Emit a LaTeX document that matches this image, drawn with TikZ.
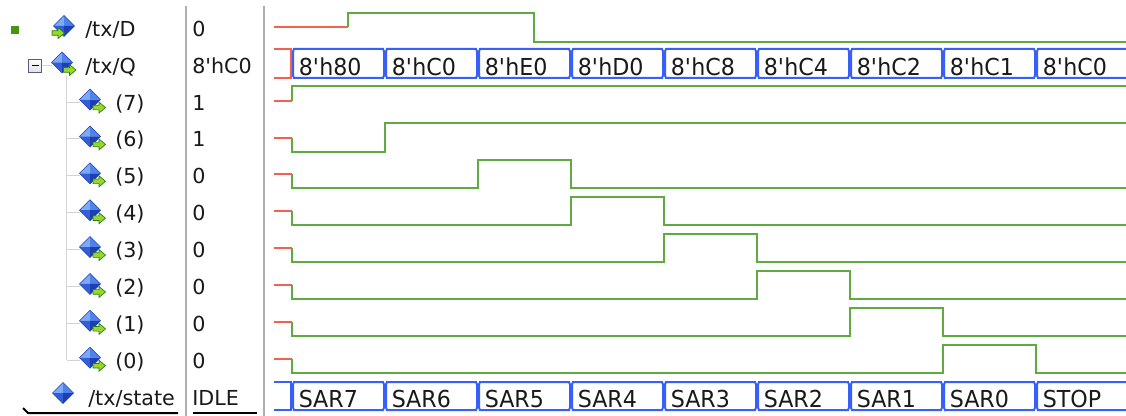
\documentclass[tikz,border=0pt]{standalone}
\usepackage{fontspec}
\setmainfont{DejaVu Sans}
\newfontfamily\busfont[FakeStretch=0.95]{DejaVu Sans}
\definecolor{wred}{RGB}{245,95,80}
\definecolor{wgreen}{RGB}{95,170,65}
\definecolor{wblue}{RGB}{55,95,250}
\definecolor{sepgray}{RGB}{175,175,175}
\definecolor{treegray}{RGB}{212,212,212}
\definecolor{txt}{RGB}{25,25,25}
\definecolor{sqgreen}{RGB}{70,150,20}
\definecolor{dA}{RGB}{125,170,245}
\definecolor{dB}{RGB}{80,130,235}
\definecolor{dC}{RGB}{50,95,215}
\definecolor{dD}{RGB}{30,62,180}
\definecolor{agreen}{RGB}{150,215,40}
\definecolor{adark}{RGB}{40,125,20}
\newcommand\apos{\textquotesingle}
\tikzset{
  pics/dia/.style={code={
    \fill[dA] (0,-10.5) -- (-10.5,0) -- (0,0) -- cycle;
    \fill[dB] (0,-10.5) -- (10.5,0) -- (0,0) -- cycle;
    \fill[dC] (-10.5,0) -- (0,10.5) -- (0,0) -- cycle;
    \fill[dD] (10.5,0) -- (0,10.5) -- (0,0) -- cycle;
    \draw[dD, line width=0.4pt] (0,-10.5) -- (10.5,0) -- (0,10.5) -- (-10.5,0) -- cycle;
  }},
  pics/sarrow/.style={code={
    \filldraw[fill=agreen, draw=adark, line width=0.5pt]
      (-6,-2.3) -- (0,-2.3) -- (0,-5.5) -- (6.5,0) -- (0,5.5) -- (0,2.3) -- (-6,2.3) -- cycle;
  }}
}
\begin{document}
\begin{tikzpicture}[x=0.75pt,y=-0.75pt,
  wave/.style={line width=1.5pt, line join=miter},
  xsig/.style={wave, draw=wred},
  lsig/.style={wave, draw=wgreen},
  bussig/.style={wave, draw=wblue, line width=1.5pt},
  lbl/.style={font=\fontsize{15.5}{18}\selectfont, text=txt, inner sep=0pt, anchor=base west},
  bustxt/.style={font=\busfont\fontsize{17.5}{21}\selectfont, text=txt, inner sep=0pt, anchor=base west},
  sep/.style={draw=sepgray, line width=1.5pt},
  tree/.style={draw=treegray, line width=0.75pt}
]
\clip (0,0) rectangle (1126,416);
\fill[white] (0,0) rectangle (1126,416);

% separators
\draw[sep] (186,6) -- (186,416);
\draw[sep] (264,6) -- (264,416);
% bottom edges
\draw[black, line width=1.5pt] (23,408) -- (28,413) -- (178,413);
\draw[black, line width=1.5pt] (193,413) -- (257,413);

% tree
\draw[tree] (66.5,76) -- (66.5,360);
\foreach \r in {2,...,9}{
  \pgfmathsetmacro\yc{round(26.8+36.88*\r)+0.5}
  \draw[tree] (66.5,\yc+1) -- (80,\yc+1);
}
\draw[tree] (41,65.5) -- (52,65.5);
% minus box
\shade[top color=white, bottom color=black!12, draw=black!40!blue!30!gray] (28.5,59.5) rectangle (41.5,72.5);
\draw[black, line width=0.75pt] (31.5,66) -- (38.5,66);
% green square
\fill[sqgreen] (11,26) rectangle (19,34);

% icons
\pic at (64,26) {dia};
\pic at (58,33) {sarrow};
\pic at (62,62.5) {dia};
\pic at (69.5,70) {sarrow};
\foreach \r in {2,...,9}{
  \pgfmathsetmacro\yc{26.8+36.88*\r}
  \pic at (90,\yc-1) {dia};
  \pic at (99,\yc+7) {sarrow};
}
\pic at (63,393) {dia};

% labels
\node[lbl] (lD) at (85,36.3) {/tx/D};
\node[lbl] (lQ) at (85,73.2) {/tx/Q};
\foreach \r/\b in {2/7,3/6,4/5,5/4,6/3,7/2,8/1,9/0}{
  \pgfmathsetmacro\yc{26.8+36.88*\r}
  \node[lbl] (lb\b) at (115,\yc+9.5) {(\b)};
}
\node[lbl] (lS) at (88,405.3) {/tx/state};

% values
\node[lbl] (vD) at (192,36.3) {0};
\node[lbl] (vQ) at (192,73.2) {8\apos hC0};
\foreach \r/\v in {2/1,3/1,4/0,5/0,6/0,7/0,8/0,9/0}{
  \pgfmathsetmacro\yc{26.8+36.88*\r}
  \node[lbl] (v\r) at (192,\yc+9.5) {\v};
}
\node[lbl] (vS) at (192,405.3) {IDLE};

% D waveform
\draw[xsig] (274,27) -- (348,27);
\draw[lsig] (348,27) -- (348,13) -- (534,13) -- (534,42) -- (1130,42);

% Q bus
\draw[xsig] (274,49) -- (291,49) -- (291,78) -- (274,78);
\foreach \k/\t in {0/8\apos h80,1/8\apos hC0,2/8\apos hE0,3/8\apos hD0,4/8\apos hC8,5/8\apos hC4,6/8\apos hC2,7/8\apos hC1,8/8\apos hC0}{
  \pgfmathsetmacro\xa{292+93*\k}
  \pgfmathsetmacro\xb{\k==8 ? 1140 : 292+93*(\k+1)}
  \draw[bussig] (\xa+2,49) -- (\xb-2,49) -- (\xb-1,51.5) -- (\xb-1,75.5) -- (\xb-2,78) -- (\xa+2,78) -- (\xa+1,75.5) -- (\xa+1,51.5) -- cycle;
  \node[bustxt] (q\k) at (\xa+6.5,75.5) {\t};
}

% bit 7
\draw[xsig] (274,101) -- (292,101);
\draw[lsig] (292,101) -- (292,86) -- (1130,86);
% bit 6
\draw[xsig] (274,138) -- (292,138);
\draw[lsig] (292,138) -- (292,152) -- (385,152) -- (385,123) -- (1130,123);
% bits 5..0
\foreach \r in {4,...,9}{
  \pgfmathsetmacro\yc{round(26.8+36.88*\r)}
  \pgfmathsetmacro\ra{292+93*(\r-2)}
  \pgfmathsetmacro\fa{292+93*(\r-1)}
  \draw[xsig] (274,\yc) -- (292,\yc);
  \draw[lsig] (292,\yc) -- (292,\yc+14) -- (\ra,\yc+14) -- (\ra,\yc-14) -- (\fa,\yc-14) -- (\fa,\yc+14) -- (1130,\yc+14);
}

% state bus
\draw[bussig] (274,382) -- (291,382) -- (291,410) -- (274,410);
\foreach \k/\t in {0/SAR7,1/SAR6,2/SAR5,3/SAR4,4/SAR3,5/SAR2,6/SAR1,7/SAR0,8/STOP}{
  \pgfmathsetmacro\xa{292+93*\k}
  \pgfmathsetmacro\xb{\k==8 ? 1140 : 292+93*(\k+1)}
  \draw[bussig] (\xa+2,382) -- (\xb-2,382) -- (\xb-1,384.5) -- (\xb-1,407.5) -- (\xb-2,410) -- (\xa+2,410) -- (\xa+1,407.5) -- (\xa+1,384.5) -- cycle;
  \node[bustxt] (s\k) at (\xa+6.5,407.5) {\t};
}
\end{tikzpicture}
\end{document}
